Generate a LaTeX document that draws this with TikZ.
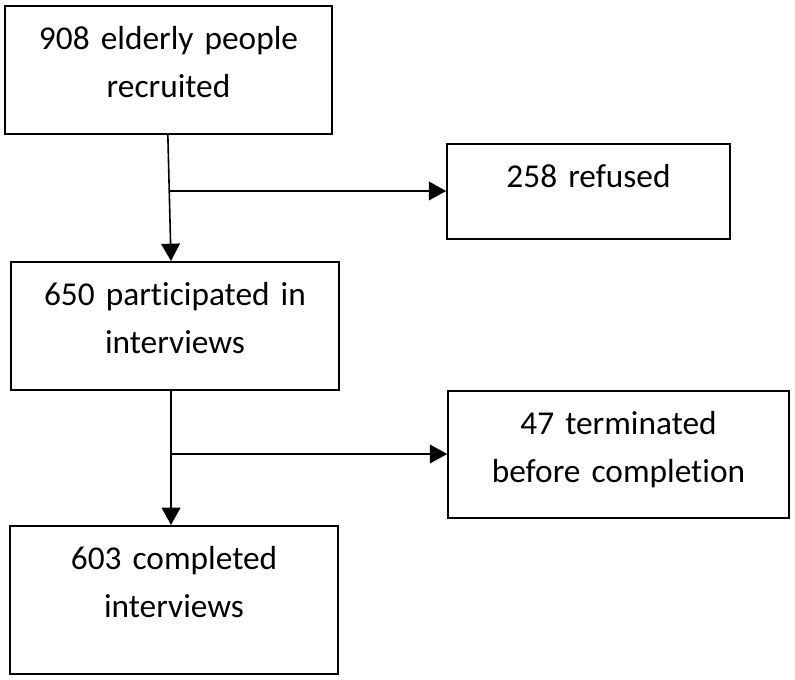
\documentclass[tikz,border=0pt]{standalone}
\usepackage{fontspec}
\setmainfont{Carlito}[Ligatures=NoCommon]
\usepackage{tikz}
\usetikzlibrary{arrows.meta}

\begin{document}
\begin{tikzpicture}[x=0.75pt,y=-0.75pt]
	\useasboundingbox (0,0) rectangle (795,679);
	\begin{scope}[every node/.style={rectangle, draw=black, line width=1.2pt, inner sep=0pt,
	                                 align=center, text height=33pt,
	                                 font=\fontsize{25pt}{36pt}\selectfont}]
	    	\node[text width=245.25pt, text depth=63pt]		(recruited) at (168.5,5) [anchor=north] {908 elderly people\\recruited};
	    	\node[text width=212.25pt, text depth=38.25pt] 	(refused) at (588.5,143) [anchor=north] {258 refused};
	    	\node[text width=246pt, text depth=63pt] 		(participated) at (175,261) [anchor=north] {650 participated in\\interviews};
	    	\node[text width=255.75pt, text depth=62.25pt] 	(terminated) at (618.5,390) [anchor=north] {47 terminated\\before completion};
	    	\node[text width=246pt, text depth=78pt] 		(completed) at (174,525) [anchor=north] {603 completed\\interviews};
	\end{scope}
	\coordinate (split1) at (169.8,191);
	\coordinate (split2) at (171,454);
	\begin{scope}[>={Triangle[length=13pt,width=14pt]},
	              line width=1.2pt]
		\draw[->] ([xshift=-0.5pt]recruited.south) -- ([xshift=-3pt]participated.north);
		\draw[->] (split1) -- (split1 -| refused.west);
		\draw[->] ([xshift=-3pt]participated.south) -- ([xshift=-2.25pt]completed.north);
		\draw[->] (split2) -- (split2 -| terminated.west);
	\end{scope}
\end{tikzpicture}
\end{document}
